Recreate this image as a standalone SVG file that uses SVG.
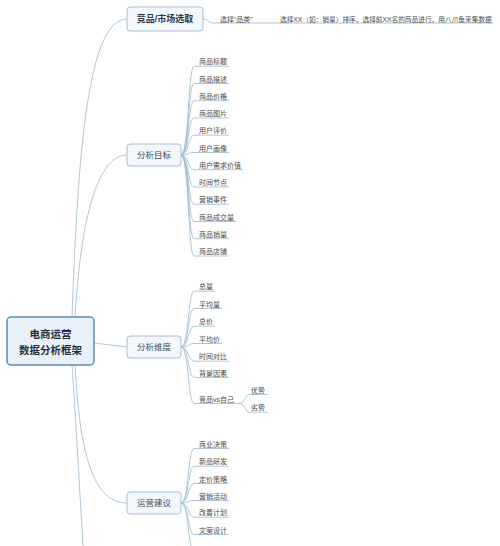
<svg xmlns="http://www.w3.org/2000/svg" width="500" height="546" viewBox="0 0 500 546">
<style>
text{font-family:'Liberation Sans','Noto Sans CJK SC',sans-serif;}
.root{fill:#e9f1f8;stroke:#5f8cab;stroke-width:1.5}
.branch{fill:#f3f7fb;stroke:#a9c1d3;stroke-width:1}
.rt{font-size:10.5px;font-weight:bold;fill:#1f2f3f;text-anchor:middle}
.bt{font-size:8.5px;fill:#3a4a5a;text-anchor:middle}
.btb{font-size:9px;font-weight:bold;fill:#2a3a4a;text-anchor:middle}
.lf{font-size:7px;fill:#4a4a4a}
.c path{fill:none;stroke:#9db9cd;stroke-width:0.8}
</style>
<rect width="500" height="546" fill="#ffffff"/>
<g class="c" id="connectors">
<path d="M72,317 C78,150 88,19 127,19"/>
<path d="M75,317 C80,230 95,155 127,155"/>
<path d="M94,343 L127,347"/>
<path d="M75,365 C80,460 95,503 127,503"/>
<path d="M72,365 C76,420 80,500 84,560"/>
<path d="M203,19 C209,19 208,23 214,23 L493,23"/>
<path d="M181,155 C189,155 188,66.2 194,66.2 L229,66.2"/>
<path d="M181,155 C189,155 188,83.5 194,83.5 L229,83.5"/>
<path d="M181,155 C189,155 188,100.7 194,100.7 L229,100.7"/>
<path d="M181,155 C189,155 188,118 194,118 L229,118"/>
<path d="M181,155 C189,155 188,135.2 194,135.2 L229,135.2"/>
<path d="M181,155 C189,155 188,152.5 194,152.5 L229,152.5"/>
<path d="M181,155 C189,155 188,169.7 194,169.7 L243,169.7"/>
<path d="M181,155 C189,155 188,187 194,187 L229,187"/>
<path d="M181,155 C189,155 188,204.2 194,204.2 L229,204.2"/>
<path d="M181,155 C189,155 188,221.5 194,221.5 L236,221.5"/>
<path d="M181,155 C189,155 188,238.7 194,238.7 L229,238.7"/>
<path d="M181,155 C189,155 188,256 194,256 L229,256"/>
<path d="M181,347 C189,347 188,291.2 194,291.2 L215,291.2"/>
<path d="M181,347 C189,347 188,308.5 194,308.5 L222,308.5"/>
<path d="M181,347 C189,347 188,326.2 194,326.2 L215,326.2"/>
<path d="M181,347 C189,347 188,343.5 194,343.5 L222,343.5"/>
<path d="M181,347 C189,347 188,361.2 194,361.2 L229,361.2"/>
<path d="M181,347 C189,347 188,377.5 194,377.5 L229,377.5"/>
<path d="M181,347 C189,347 188,403.5 194,403.5 L239,403.5"/>
<path d="M239,403.5 C246,403.5 244,394.5 250,394.5 L268,394.5"/>
<path d="M239,403.5 C246,403.5 244,412.2 250,412.2 L268,412.2"/>
<path d="M181,503 C189,503 188,448.5 194,448.5 L229,448.5"/>
<path d="M181,503 C189,503 188,466.2 194,466.2 L229,466.2"/>
<path d="M181,503 C189,503 188,483.5 194,483.5 L229,483.5"/>
<path d="M181,503 C189,503 188,500.5 194,500.5 L229,500.5"/>
<path d="M181,503 C189,503 188,517.2 194,517.2 L229,517.2"/>
<path d="M181,503 C189,503 188,534.5 194,534.5 L229,534.5"/>
<path d="M181,503 C189,503 188,552 194,552 L229,552"/>
</g>
<g id="root">
<rect class="root" x="7" y="317" width="87" height="48" rx="4"/>
<text class="rt" x="50.5" y="338">电商运营</text>
<text class="rt" x="50.5" y="354">数据分析框架</text>
</g>
<g id="b1">
<rect class="branch" x="127" y="7" width="76" height="24" rx="3"/>
<text class="btb" x="165" y="22">竞品/市场选取</text>
</g>
<g id="b1-leaves">
<text class="lf" x="220" y="21.5">选择“品类”</text>
<text class="lf" x="280" y="21.5" style="font-size:6.7px">选择XX（如：销量）排序，选择前XX名的商品进行，用八爪鱼采集数据</text>
</g>
<g id="b2">
<rect class="branch" x="127" y="144" width="54" height="22" rx="3"/>
<text class="bt" x="154" y="158">分析目标</text>
</g>
<g id="b2-leaves">
<text class="lf" x="199" y="64.2">商品标题</text>
<text class="lf" x="199" y="81.5">商品描述</text>
<text class="lf" x="199" y="98.7">商品价格</text>
<text class="lf" x="199" y="116">商品图片</text>
<text class="lf" x="199" y="133.2">用户评价</text>
<text class="lf" x="199" y="150.5">用户画像</text>
<text class="lf" x="199" y="167.7">用户需求价值</text>
<text class="lf" x="199" y="185">时间节点</text>
<text class="lf" x="199" y="202.2">营销事件</text>
<text class="lf" x="199" y="219.5">商品成交量</text>
<text class="lf" x="199" y="236.7">商品销量</text>
<text class="lf" x="199" y="254">商品店铺</text>
</g>
<g id="b3">
<rect class="branch" x="127" y="336" width="54" height="22" rx="3"/>
<text class="bt" x="154" y="350">分析维度</text>
</g>
<g id="b3-leaves">
<text class="lf" x="199" y="289.2">总量</text>
<text class="lf" x="199" y="306.5">平均量</text>
<text class="lf" x="199" y="324.2">总价</text>
<text class="lf" x="199" y="341.5">平均价</text>
<text class="lf" x="199" y="359.2">时间对比</text>
<text class="lf" x="199" y="375.5">背景因素</text>
<text class="lf" x="199" y="401.5">竞品vs自己</text>
<text class="lf" x="251" y="392.5">优势</text>
<text class="lf" x="251" y="410.2">劣势</text>
</g>
<g id="b4">
<rect class="branch" x="127" y="492" width="54" height="22" rx="3"/>
<text class="bt" x="154" y="506">运营建议</text>
</g>
<g id="b4-leaves">
<text class="lf" x="199" y="446.5">商业决策</text>
<text class="lf" x="199" y="464.2">新品研发</text>
<text class="lf" x="199" y="481.5">定价策略</text>
<text class="lf" x="199" y="498.5">营销活动</text>
<text class="lf" x="199" y="515.2">改善计划</text>
<text class="lf" x="199" y="532.5">文案设计</text>
</g>
</svg>
